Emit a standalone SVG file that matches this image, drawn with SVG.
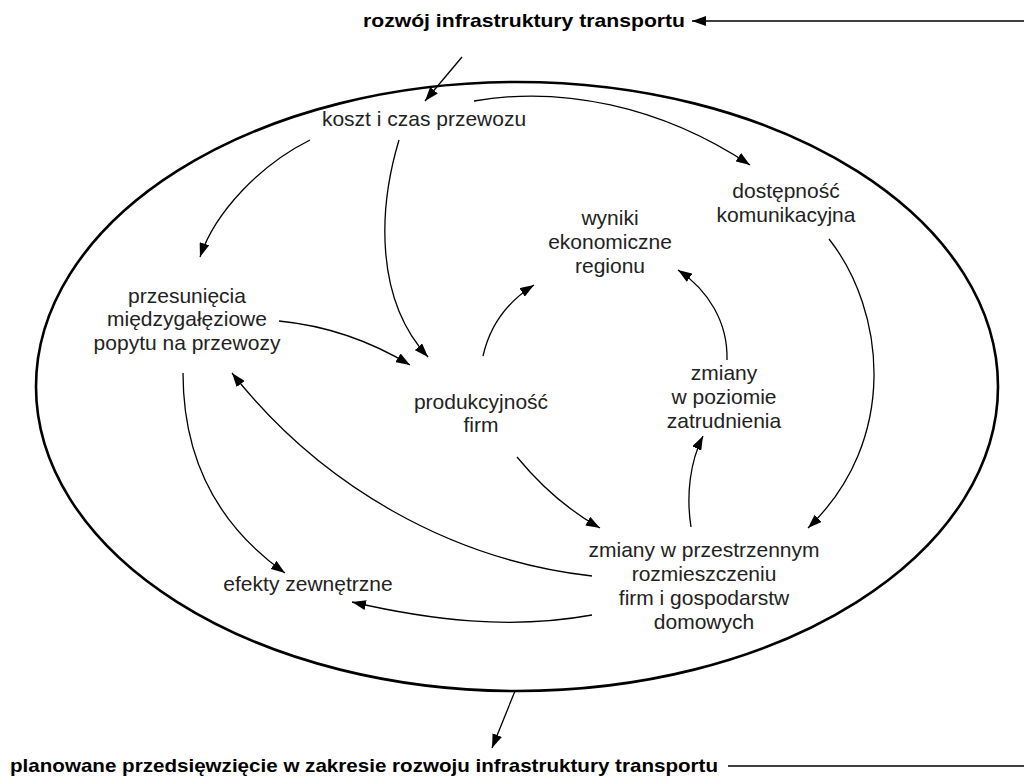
<svg xmlns="http://www.w3.org/2000/svg" width="1024" height="778" viewBox="0 0 1024 778">
<style>
text { font-family: "Liberation Sans", Arial, sans-serif; font-size: 21px; fill: #222; text-anchor: middle; }
.b { font-weight: bold; font-size: 19px; fill: #000; text-anchor: start; }
.c { fill: none; stroke: #000; stroke-width: 1.3; }
.a { marker-end: url(#ah); }
</style>
<defs>
<marker id="ah" viewBox="0 0 14 10" refX="14" refY="5" markerWidth="14" markerHeight="10" markerUnits="userSpaceOnUse" orient="auto">
<path d="M0,0 L14,5 L0,10 z" fill="#000"/>
</marker>
</defs>
<rect width="1024" height="778" fill="#fff"/>
<g id="boundary">
<ellipse cx="517" cy="386.5" rx="481" ry="304.5" fill="none" stroke="#000" stroke-width="2.6"/>
</g>
<g id="top-node"><text class="b" x="363" y="27" textLength="322" lengthAdjust="spacingAndGlyphs">rozwój infrastruktury transportu</text></g>
<g id="bottom-node"><text class="b" x="10" y="772" textLength="708" lengthAdjust="spacingAndGlyphs">planowane przedsięwzięcie w zakresie rozwoju infrastruktury transportu</text></g>
<g id="koszt"><text x="424" y="126">koszt i czas przewozu</text></g>
<g id="dostepnosc"><text x="786" y="198">dostępność</text><text x="786" y="222">komunikacyjna</text></g>
<g id="wyniki"><text x="610" y="225">wyniki</text><text x="610" y="249">ekonomiczne</text><text x="610" y="273">regionu</text></g>
<g id="przesuniecia"><text x="187" y="303">przesunięcia</text><text x="187" y="326">międzygałęziowe</text><text x="187" y="350">popytu na przewozy</text></g>
<g id="produkcyjnosc"><text x="481" y="409">produkcyjność</text><text x="481" y="432">firm</text></g>
<g id="zatrudnienie"><text x="724" y="380">zmiany</text><text x="724" y="404">w poziomie</text><text x="724" y="428">zatrudnienia</text></g>
<g id="rozmieszczenie"><text x="704" y="557">zmiany w przestrzennym</text><text x="704" y="581">rozmieszczeniu</text><text x="704" y="605">firm i gospodarstw</text><text x="704" y="629">domowych</text></g>
<g id="efekty"><text x="308" y="591">efekty zewnętrzne</text></g>
<g id="connectors">
<path class="c a" d="M1024,21 L692,21"/>
<path class="c a" d="M462,57 L425,101"/>
<path class="c a" d="M515,691 L492,748"/>
<path class="c" d="M728,766 L1024,766"/>
<path class="c a" d="M474,101 C560,86 660,105 750,165"/>
<path class="c a" d="M310,140 C260,165 215,212 200,257"/>
<path class="c a" d="M399,140 C378,210 375,300 428,357"/>
<path class="c a" d="M279,321 C330,326 372,342 410,365"/>
<path class="c a" d="M483,356 C490,325 507,302 534,285"/>
<path class="c a" d="M727,360 C728,322 708,290 678,270"/>
<path class="c a" d="M829,239 C885,310 900,440 808,528"/>
<path class="c a" d="M517,457 C540,485 568,510 600,528"/>
<path class="c a" d="M691,527 C686,495 690,462 703,436"/>
<path class="c a" d="M592,576 C450,560 320,485 232,373"/>
<path class="c a" d="M183,373 C183,450 210,520 285,573"/>
<path class="c a" d="M592,615 C510,630 430,620 352,602"/>
</g>
</svg>
